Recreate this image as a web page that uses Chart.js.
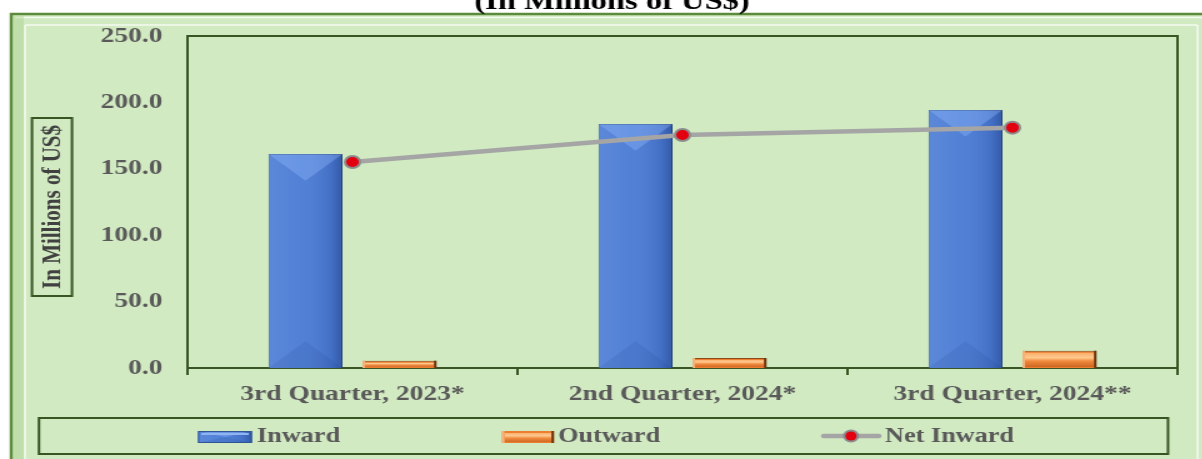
<!DOCTYPE html>
<html>
<head>
<meta charset="utf-8">
<script src="https://cdn.jsdelivr.net/npm/chart.js@4"></script>
<style>
  html, body { margin: 0; padding: 0; background: #fff; overflow: hidden; }
  #wrap { width: 1202px; height: 459px; overflow: hidden; }
  /* the chart is drawn narrow and stretched sideways */
  #chart { width: 962px; height: 459px; transform: scaleX(1.25); transform-origin: 0 0; }
</style>
</head>
<body>
<div id="wrap"><canvas id="chart" width="962" height="459"></canvas></div>
<script>
// Quarterly remittances (in millions of US$)
const quarters = ['3rd Quarter, 2023*', '2nd Quarter, 2024*', '3rd Quarter, 2024**'];
const inward = [161.1, 183.7, 194.3];
const outward = [5.5, 7.5, 13.0];
const netInward = [155.1, 175.5, 181.0];
const yTicks = [0, 50, 100, 150, 200, 250];

const SERIF = "'Liberation Serif', 'Times New Roman', serif";
const DARK_GREEN = '#375623';
const LABEL_GREY = '#595959';

// bevel look for the blue columns
function shadeInward(ctx, b) {
  const l = b.x - b.width / 2, r = b.x + b.width / 2, w = b.width;
  const g = ctx.createLinearGradient(l, 0, r, 0);
  g.addColorStop(0, 'rgba(255,255,255,0.10)');
  g.addColorStop(0.45, 'rgba(255,255,255,0.04)');
  g.addColorStop(0.85, 'rgba(0,10,60,0.10)');
  g.addColorStop(1, 'rgba(0,10,60,0.30)');
  ctx.fillStyle = g;
  ctx.fillRect(l, b.y, w, b.base - b.y);
  const d = Math.min(w * 0.45, (b.base - b.y) / 2);
  ctx.fillStyle = 'rgba(150,190,255,0.35)';
  ctx.beginPath();
  ctx.moveTo(l, b.y); ctx.lineTo(r, b.y); ctx.lineTo(b.x, b.y + d); ctx.closePath();
  ctx.fill();
  ctx.fillStyle = 'rgba(20,50,120,0.10)';
  ctx.beginPath();
  ctx.moveTo(l, b.base); ctx.lineTo(r, b.base); ctx.lineTo(b.x, b.base - d); ctx.closePath();
  ctx.fill();
}

// bevel look for the thin orange bars
function shadeOutward(ctx, b) {
  const l = b.x - b.width / 2, w = b.width, h = b.base - b.y;
  const g = ctx.createLinearGradient(0, b.y, 0, b.base);
  g.addColorStop(0, '#f7a25a');
  g.addColorStop(0.4, '#ffc98e');
  g.addColorStop(0.6, '#f08a3e');
  g.addColorStop(1, '#c8601c');
  ctx.fillStyle = g;
  ctx.fillRect(l + 2, b.y + 2, w - 4, h - 3);
  ctx.fillStyle = '#6b3510';
  ctx.fillRect(l + w - 2, b.y, 2, h);
  ctx.fillStyle = '#f6b27a';
  ctx.fillRect(l, b.y, 2, h);
}

function drawMarker(ctx, x, y) {
  ctx.beginPath();
  ctx.arc(x, y, 6.5, 0, Math.PI * 2);
  ctx.fillStyle = '#8c8c8c';
  ctx.fill();
  ctx.beginPath();
  ctx.arc(x, y, 4.5, 0, Math.PI * 2);
  ctx.fillStyle = '#e3000f';
  ctx.fill();
}

const frame = {
  id: 'frame',
  beforeDraw(chart) {
    const ctx = chart.ctx;
    ctx.save();
    ctx.fillStyle = '#ffffff';
    ctx.fillRect(0, 0, chart.width, chart.height);
    ctx.fillStyle = '#d1eac1';
    ctx.fillRect(8, 13, chart.width, chart.height);
    // outer border with a light inner rim
    ctx.strokeStyle = '#5b8a3a';
    ctx.lineWidth = 2.5;
    ctx.strokeRect(9, 14, chart.width + 10, chart.height + 10);
    ctx.strokeStyle = 'rgba(255,255,255,0.75)';
    ctx.lineWidth = 1.5;
    ctx.beginPath();
    ctx.moveTo(12, 17.5); ctx.lineTo(chart.width, 17.5);
    ctx.moveTo(20, 25); ctx.lineTo(chart.width - 4, 25);
    ctx.moveTo(20, 25); ctx.lineTo(20, chart.height);
    ctx.moveTo(chart.width - 4, 25); ctx.lineTo(chart.width - 4, chart.height);
    ctx.stroke();
    ctx.fillStyle = 'rgba(160,200,130,0.35)';
    ctx.fillRect(11, 16, 8, chart.height);
    // heading, mostly above the page edge
    ctx.fillStyle = '#000';
    ctx.font = 'bold 26px ' + SERIF;
    ctx.textAlign = 'center';
    ctx.textBaseline = 'alphabetic';
    ctx.fillText('(In Millions of US$)', 489.6, 9);
    ctx.restore();
  },
  beforeDatasetsDraw(chart) {
    const { ctx, chartArea: a } = chart;
    ctx.save();
    ctx.strokeStyle = DARK_GREEN;
    ctx.lineWidth = 2;
    ctx.strokeRect(a.left, a.top, a.right - a.left, a.bottom - a.top);
    ctx.restore();
  },
  afterDatasetDraw(chart, args) {
    const ctx = chart.ctx;
    const label = chart.data.datasets[args.index].label;
    if (label !== 'Inward' && label !== 'Outward') return;
    ctx.save();
    args.meta.data.forEach(el => {
      const b = el.getProps(['x', 'y', 'base', 'width'], true);
      if (label === 'Inward') shadeInward(ctx, b); else shadeOutward(ctx, b);
    });
    ctx.restore();
  },
  afterDraw(chart) {
    const ctx = chart.ctx;
    ctx.save();
    // y axis title in its box
    ctx.strokeStyle = DARK_GREEN;
    ctx.lineWidth = 2;
    ctx.strokeRect(25.6, 118, 32, 178);
    ctx.translate(41.6, 207);
    ctx.rotate(-Math.PI / 2);
    ctx.fillStyle = '#404040';
    ctx.font = 'bold 21px ' + SERIF;
    ctx.textAlign = 'center';
    ctx.textBaseline = 'middle';
    ctx.fillText('In Millions of US$', 0, 1);
    ctx.restore();

    // legend
    ctx.save();
    ctx.strokeStyle = DARK_GREEN;
    ctx.lineWidth = 2;
    ctx.strokeRect(31.2, 418, 903.2, 36);
    ctx.font = 'bold 21px ' + SERIF;
    ctx.fillStyle = LABEL_GREY;
    ctx.textBaseline = 'middle';
    const ly = 437;
    const ds = chart.data.datasets;

    ctx.fillStyle = ds[0].backgroundColor;
    ctx.fillRect(158.4, 431, 43.2, 12);
    shadeInward(ctx, { x: 180, y: 431, base: 443, width: 43.2 });
    ctx.strokeStyle = '#2f5597'; ctx.lineWidth = 1;
    ctx.strokeRect(158.9, 431.5, 42.2, 11);
    ctx.fillStyle = '#8fb4f2';
    ctx.fillRect(161, 433, 38, 2);

    ctx.fillStyle = ds[1].backgroundColor;
    ctx.fillRect(401.6, 431, 41.6, 12);
    shadeOutward(ctx, { x: 422.4, y: 431, base: 443, width: 41.6 });

    ctx.strokeStyle = ds[2].borderColor;
    ctx.lineWidth = 4.5;
    ctx.lineCap = 'round';
    ctx.beginPath(); ctx.moveTo(659, ly - 1); ctx.lineTo(703, ly - 1); ctx.stroke();
    drawMarker(ctx, 680.8, ly - 1);

    ctx.fillStyle = LABEL_GREY;
    ctx.textAlign = 'left';
    ctx.fillText(ds[0].label, 205.6, ly);
    ctx.fillText(ds[1].label, 446.4, ly);
    ctx.fillText(ds[2].label, 708, ly);
    ctx.restore();
  }
};

new Chart(document.getElementById('chart').getContext('2d'), {
  type: 'bar',
  data: {
    labels: quarters,
    datasets: [
      {
        label: 'Inward',
        data: inward,
        backgroundColor: '#4a7bd4',
        borderColor: '#2f5597',
        borderWidth: 1,
        barPercentage: 0.787,
        categoryPercentage: 0.57,
        order: 2
      },
      {
        label: 'Outward',
        data: outward,
        backgroundColor: '#ed7d31',
        borderColor: '#8a4a1a',
        borderWidth: 1,
        barPercentage: 0.787,
        categoryPercentage: 0.57,
        order: 2
      },
      {
        type: 'line',
        label: 'Net Inward',
        data: netInward,
        borderColor: '#a5a5a5',
        borderWidth: 4.5,
        pointRadius: 6,
        pointBackgroundColor: '#e3000f',
        pointBorderColor: '#8c8c8c',
        pointBorderWidth: 2,
        order: 1
      }
    ]
  },
  options: {
    responsive: false,
    animation: false,
    events: [],
    layout: { padding: { top: 36, right: 20, left: 0, bottom: 0 } },
    plugins: {
      legend: { display: false },
      tooltip: { enabled: false }
    },
    scales: {
      x: {
        grid: { offset: true, drawOnChartArea: false, color: DARK_GREEN, lineWidth: 2, tickLength: 7 },
        border: { display: false },
        ticks: {
          color: LABEL_GREY,
          font: { family: SERIF, size: 22, weight: 'bold' },
          padding: 6,
          maxRotation: 0
        },
        afterFit: s => { s.height = 91; }
      },
      y: {
        min: 0,
        max: 250,
        grid: { display: false, drawTicks: false },
        border: { display: false },
        ticks: {
          color: LABEL_GREY,
          font: { family: SERIF, size: 22, weight: 'bold' },
          padding: 20,
          callback: v => v.toFixed(1)
        },
        afterBuildTicks: s => { s.ticks = yTicks.map(v => ({ value: v })); },
        afterFit: s => { s.width = 150; }
      }
    }
  },
  plugins: [frame]
});
</script>
</body>
</html>
